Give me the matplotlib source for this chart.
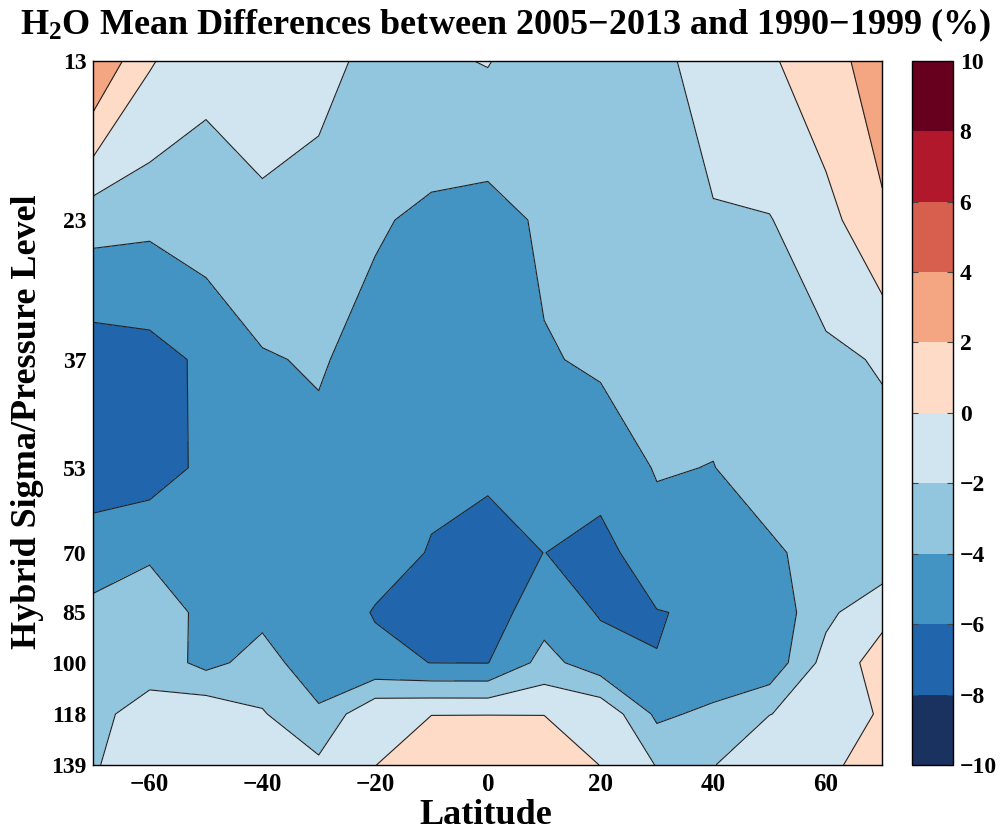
import numpy as np
import matplotlib
matplotlib.use("Agg")
import matplotlib.pyplot as plt
from matplotlib.colors import ListedColormap, BoundaryNorm
from matplotlib.ticker import NullLocator

# grid: latitude columns and hybrid sigma/pressure levels
lat = [-70, -60, -50, -40, -30, -20, -10, 0, 10, 20, 30, 40, 50, 60, 70]
lev = [13, 23, 37, 53, 70, 85, 100, 118, 139]

# H2O mean difference (%) on each level, south to north
d13 = [3.95, 0.2, -1.5, -1.2, -1.0, -2.85, -2.3, -1.9, -3.18, -2.9, -2.56, -1.0, -0.25, 1.21, 3.0]
d23 = [-3.35, -3.6, -3.1, -2.36, -3.44, -3.75, -4.46, -4.86, -3.65, -3.4, -3.3, -2.2, -2.09, -0.68, 1.68]
d37 = [-7.2, -6.8, -5.6, -4.19, -3.77, -4.89, -5.0, -5.2, -4.17, -3.7, -3.6, -3.34, -3.0, -2.42, -1.82]
d53 = [-6.6, -6.96, -5.56, -5.0, -4.68, -5.0, -5.78, -5.6, -5.5, -5.33, -3.85, -4.05, -2.92, -3.0, -2.72]
d70 = [-5.4, -4.19, -5.0, -5.0, -5.0, -5.5, -6.07, -6.93, -5.98, -6.6, -4.88, -5.0, -4.4, -3.1, -3.48]
d85 = [-3.28, -3.2, -4.36, -4.5, -5.2, -6.08, -6.6, -7.0, -4.76, -6.15, -6.07, -5.74, -5.43, -2.45, -0.52]
d100 = [-3.0, -2.8, -4.58, -3.2, -5.2, -5.65, -6.02, -6.05, -3.33, -5.14, -5.97, -5.49, -5.35, -1.27, 0.85]
d118 = [-2.5, -1.23, -0.41, -1.84, -3.66, -0.25, -0.02, -0.02, -0.02, -0.38, -4.4, -3.53, -2.02, -1.6, 0.3]
d139 = [-2.15, -1.0, -1.0, -1.0, -1.56, -0.02, 0.8, 1.0, 0.8, -0.02, -2.08, -2.05, -1.0, -0.5, 1.1]

clevels = [-10, -8, -6, -4, -2, 0, 2, 4, 6, 8, 10]
ccolors = ["#1a3260", "#2166ac", "#4393c3", "#92c5de", "#d1e5f0",
           "#fddbc7", "#f4a582", "#d6604d", "#b2182b", "#67001f"]
yticks = [13, 23, 37, 53, 70, 85, 100, 118, 139]
xticks = [-60, -40, -20, 0, 20, 40, 60]

plt.rcParams["font.family"] = "Liberation Serif"
plt.rcParams["font.weight"] = "bold"
plt.rcParams["mathtext.fontset"] = "custom"
plt.rcParams["mathtext.rm"] = "Liberation Serif:bold"
plt.rcParams["mathtext.it"] = "Liberation Serif:bold"
plt.rcParams["mathtext.default"] = "rm"

diff = np.vstack([d13, d23, d37, d53, d70, d85, d100, d118, d139])
cmap = ListedColormap(ccolors)
norm = BoundaryNorm(clevels, cmap.N)

fig = plt.figure(figsize=(10.05, 8.35), dpi=100)
ax = fig.add_axes([0.0928, 0.0838, 0.7851, 0.8435])
cax = fig.add_axes([0.9078, 0.0838, 0.0402, 0.8435])

# stretched pressure-like vertical coordinate
ax.set_yscale("function", functions=(lambda p: np.log(p + 2.3), lambda u: np.exp(u) - 2.3))

cf = ax.contourf(lat, lev, diff, levels=clevels, cmap=cmap, norm=norm)
ax.contour(lat, lev, diff, levels=clevels, colors="#222222", linewidths=0.8,
           linestyles="solid")

ax.set_xlim(-70, 70)
ax.set_ylim(139, 13)
ax.set_xticks(xticks)
ax.set_xticklabels([str(x).replace("-", "\u2212") for x in xticks])
ax.set_yticks(yticks)
ax.set_yticklabels([str(y) for y in yticks])
ax.yaxis.set_minor_locator(NullLocator())
ax.xaxis.set_minor_locator(NullLocator())
ax.tick_params(axis="x", length=0, pad=6, labelsize=18)
ax.tick_params(axis="y", length=0, pad=5, labelsize=17)
for s in ax.spines.values():
    s.set_linewidth(1.0)

cb = fig.colorbar(cf, cax=cax, ticks=clevels)
cb.ax.set_yticklabels([str(c).replace("-", "\u2212") for c in clevels])
cb.ax.tick_params(direction="in", length=4, width=0.8, color="#444444",
                  left=True, right=True, labelsize=17, pad=5)
cb.outline.set_linewidth(1.0)

fig.text(506 / 1005, 1 - 25 / 835,
         "H$_2$O Mean Differences between 2005\u22122013 and 1990\u22121999 (%)",
         ha="center", va="center", fontsize=26, fontweight="bold")
fig.text(486 / 1005, 1 - 815 / 835, "Latitude", ha="center", va="center",
         fontsize=26, fontweight="bold")
fig.text(28 / 1005, 1 - 422 / 835, "Hybrid Sigma/Pressure Level", rotation=90,
         ha="center", va="center", fontsize=26, fontweight="bold")

fig.savefig("out.png", dpi=100)
